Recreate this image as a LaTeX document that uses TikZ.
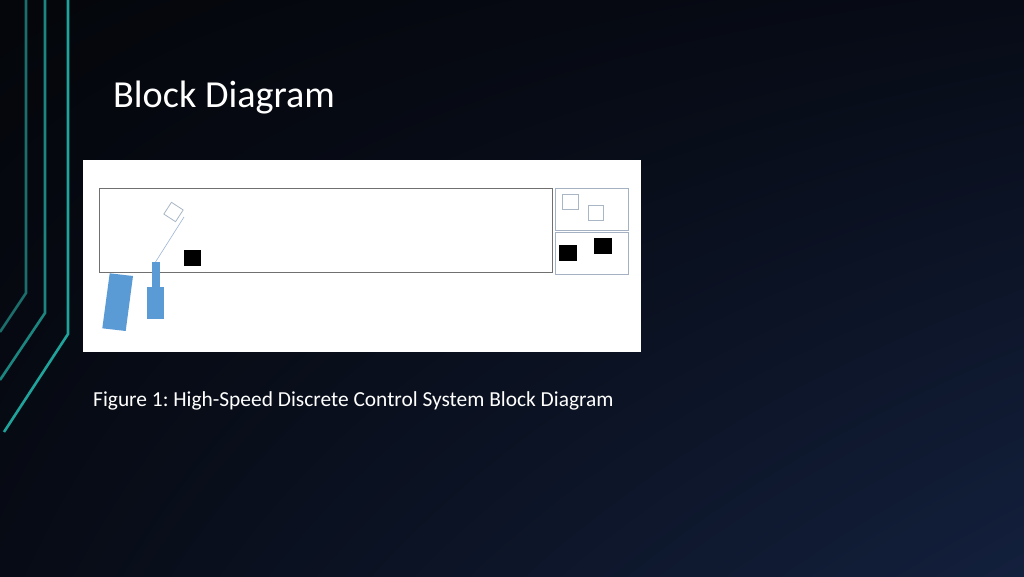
\documentclass[tikz,border=0pt]{standalone}
\usepackage{fontspec}
\setmainfont{Carlito}
\usetikzlibrary{shadings}
\definecolor{bgUL}{HTML}{04060B}
\definecolor{bgUR}{HTML}{070B16}
\definecolor{bgLL}{HTML}{070B15}
\definecolor{bgLR}{HTML}{13203D}
\definecolor{tealA}{HTML}{1B6E6C}
\definecolor{tealB}{HTML}{1B857F}
\definecolor{tealC}{HTML}{1FA39B}
\definecolor{boxgray}{HTML}{707070}
\definecolor{boxblue}{HTML}{A3B1C2}
\definecolor{sqgray}{HTML}{A9B6C6}
\definecolor{partblue}{HTML}{5B9BD5}
\definecolor{wire}{HTML}{9DB5D6}
\tikzset{
  deco/.style={line width=2.6pt},
  outline/.style={draw=boxgray, line width=0.8pt},
  panel/.style={draw=boxblue, line width=0.8pt},
  hollowsq/.style={draw=sqgray, line width=0.8pt},
  solidsq/.style={fill=black},
  part/.style={fill=partblue},
  titletext/.style={text=white, font=\fontsize{38.2}{42}\selectfont, anchor=base west, inner sep=0pt},
  captext/.style={text=white, font=\fontsize{21.4}{24}\selectfont\frenchspacing, anchor=base west, inner sep=0pt},
}
\begin{document}
\begin{tikzpicture}[x=1pt,y=-1pt]
\useasboundingbox (0,0) rectangle (1024,576);
\shade[upper left=bgUL, upper right=bgUR, lower left=bgLL, lower right=bgLR] (0,0) rectangle (1024,576);
% decorative lines
\draw[deco, tealA] (26,0) -- (26,293) -- (0,332);
\draw[deco, tealB] (45,0) -- (45,313) -- (0,380);
\draw[deco, tealC] (68,0) -- (68,334) -- (4,432);
% title
\node[titletext] (title) at (113,107) {Block Diagram};
% white figure area
\fill[white] (83,160) rectangle (641,352);
% main block
\draw[outline] (99,188) rectangle (552,272);
% right panels
\draw[panel] (555,188) rectangle (628,230);
\draw[panel] (555,232) rectangle (628,274);
\draw[hollowsq] (562,194) rectangle (578,209);
\draw[hollowsq] (588,205) rectangle (603,220);
\fill[solidsq] (559,245) rectangle (577,261);
\fill[solidsq] (594,238) rectangle (612,254);
% inner items of main block
\node[hollowsq, minimum size=14pt, inner sep=0pt, rotate=-33] (tilt) at (173.5,212) {};
\coordinate (wA) at (184,217);
\coordinate (wB) at (155.5,262);
\draw[wire, line width=0.6pt] (wA) -- (wB);
\fill[solidsq] (184,250) rectangle (201,266);
% blue parts
\fill[part] (151.7,261.7) rectangle (159.7,287);
\fill[part] (147,286.7) rectangle (163.7,319);
\fill[part] (109.7,273.3) -- (133,276) -- (125.7,331) -- (102.3,328.3) -- cycle;
% caption
\node[captext] (caption) at (93,406.5) {Figure 1: High-Speed Discrete Control System Block Diagram};
\end{tikzpicture}
\end{document}
